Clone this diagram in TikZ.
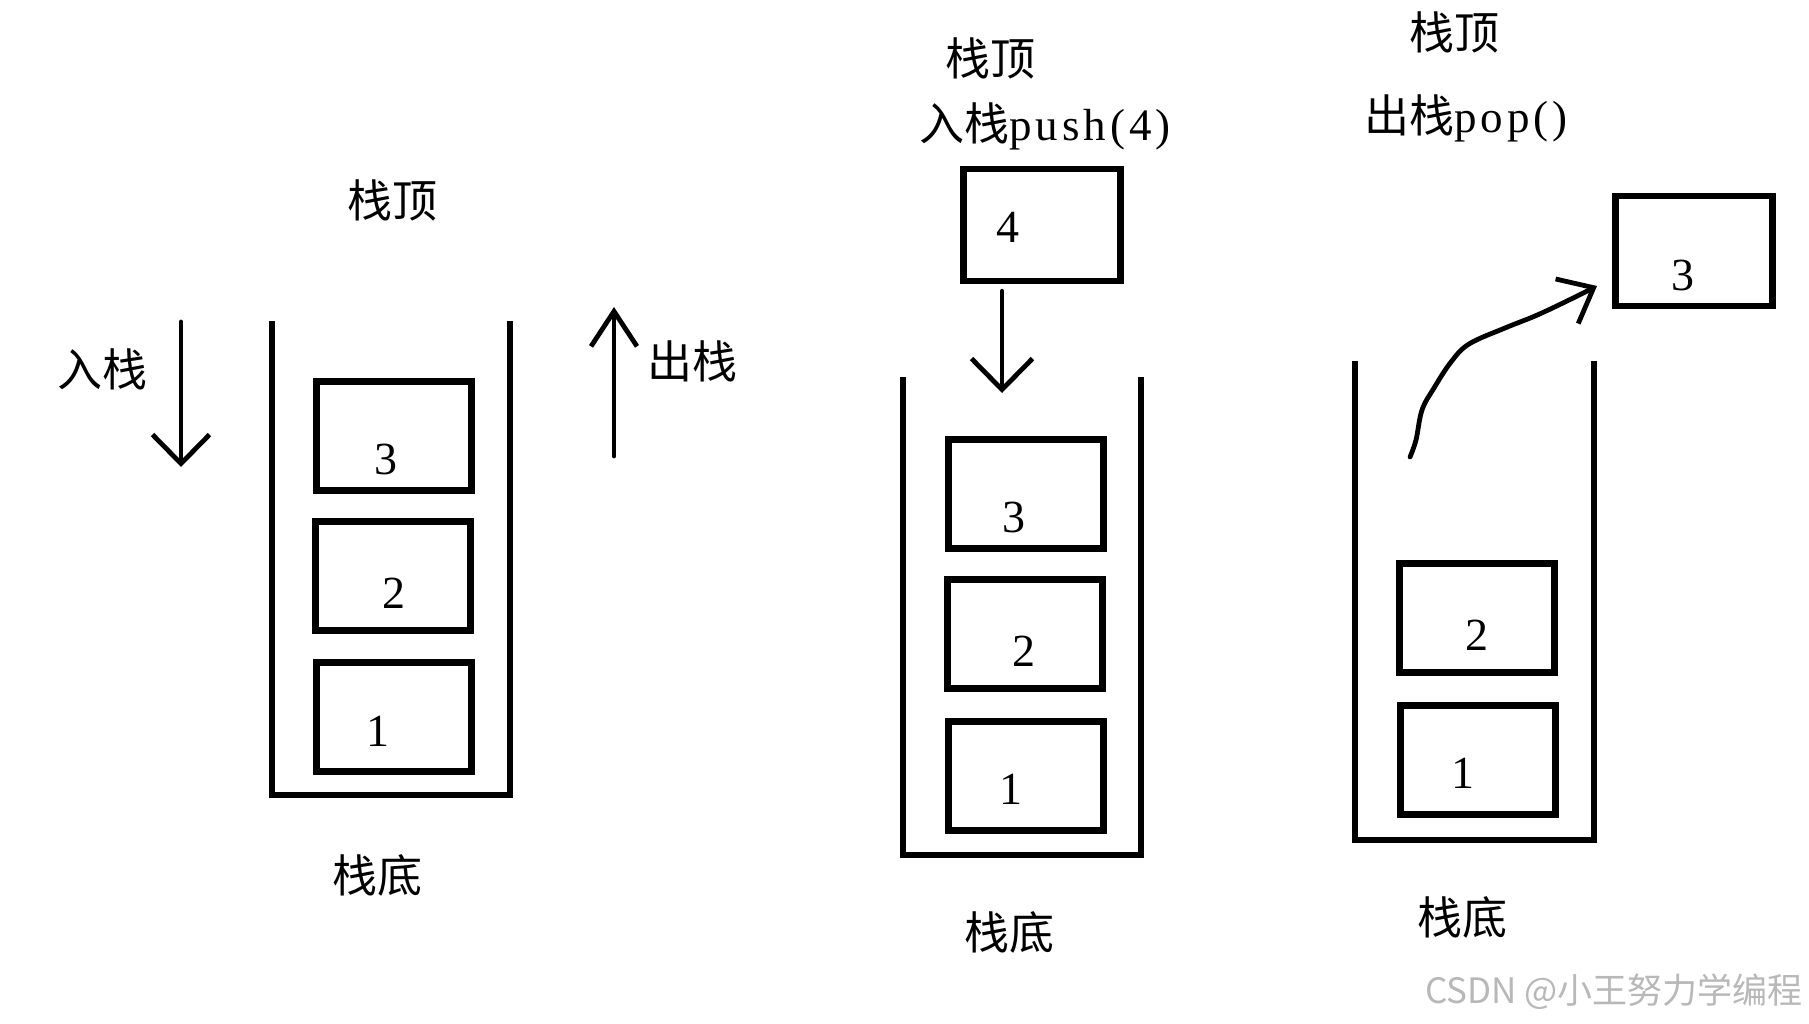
\documentclass[tikz,border=0pt]{standalone}
\usepackage{fontspec}
\setmainfont{Liberation Serif}
\newfontfamily\cjk{Noto Sans CJK SC}
\newfontfamily\spacedrm[LetterSpace=9]{Liberation Serif}
\usetikzlibrary{arrows.meta}
\begin{document}
\begin{tikzpicture}[x=1pt,y=-1pt,
  wall/.style={line width=5.5pt},
  cell/.style={draw, line width=6.5pt, minimum width=155pt, minimum height=109pt, inner sep=0pt},
  dig/.style={inner sep=0pt, font=\fontsize{46}{46}\selectfont, text height=31pt, text depth=0pt},
  lbl/.style={inner sep=0pt, font=\cjk\fontsize{45}{45}\selectfont, text height=40pt, text depth=5pt},
  arrline/.style={line width=4.8pt, line cap=round, line join=round},
]
\fill[white] (0,0) rectangle (1809,1024);
\useasboundingbox (0,0) rectangle (1809,1024);

% ---------- stack 1 ----------
\draw[wall] (272,321) -- (272,795) -- (510,795) -- (510,321);
\node[cell] (a3) at (394,436) {};
\node[cell] (a2) at (393,576) {};
\node[cell] (a1) at (394,717) {};
\node[dig] (a3t) at (386,459) {3};
\node[dig] (a2t) at (394,593) {2};
\node[dig] (a1t) at (378,731) {1};
\node[lbl] (atop) at (392,200) {栈顶};
\node[lbl] (abot) at (377,875) {栈底};
\node[lbl] (ain) at (102,369) {入栈};
\node[lbl] (aout) at (692,361) {出栈};
\coordinate (inS) at (181,322);
\coordinate (inE) at (181,467);
\draw[arrline, -{Straight Barb[length=29pt,width=57pt]}] (inS) -- (inE);
\coordinate (outS) at (614,456);
\coordinate (outE) at (614,307);
\draw[arrline, -{Straight Barb[length=35pt,width=46pt]}] (outS) -- (outE);

% ---------- stack 2 ----------
\draw[wall] (903,377) -- (903,855) -- (1141,855) -- (1141,377);
\node[cell] (b3) at (1026,494) {};
\node[cell] (b2) at (1025,634) {};
\node[cell] (b1) at (1026,776) {};
\node[cell, minimum width=157pt, minimum height=112pt] (b4) at (1042,225) {};
\node[dig] (b3t) at (1014,517) {3};
\node[dig] (b2t) at (1024,651) {2};
\node[dig] (b1t) at (1011,789) {1};
\node[dig] (b4t) at (1008,227) {4};
\node[lbl] (btop) at (990,58) {栈顶};
\node[lbl] (bpush) at (1045,123) {入栈\spacedrm push(4)};
\node[lbl] (bbot) at (1009,932) {栈底};
\coordinate (pushS) at ([xshift=-40pt,yshift=-7pt]b4.south);
\coordinate (pushE) at (1002,393);
\draw[arrline, -{Straight Barb[length=31pt,width=61pt]}] (pushS) -- (pushE);

% ---------- stack 3 ----------
\draw[wall] (1355,361) -- (1355,840) -- (1594,840) -- (1594,361);
\node[cell] (c2) at (1477,618) {};
\node[cell] (c1) at (1478,760) {};
\node[cell, minimum width=157pt, minimum height=110pt] (c3) at (1694,251) {};
\node[dig] (c2t) at (1477,635) {2};
\node[dig] (c1t) at (1463,773) {1};
\node[dig] (c3t) at (1683,275) {3};
\node[lbl] (ctop) at (1454,32) {栈顶};
\node[lbl] (cpop) at (1466,115) {出栈\spacedrm pop()};
\node[lbl] (cbot) at (1462,917) {栈底};
\coordinate (popS) at (1410,457);
\coordinate (popE) at (1597,286);
\draw[arrline, -{Straight Barb[length=30pt,width=50pt]}]
  plot[smooth, tension=0.6] coordinates {(popS) (1416,440) (1422,410) (1434,388) (1451,362) (1469,344) (1505,328) (1535,316) (1565,302) (popE)};

% ---------- watermark ----------
\node[inner sep=0pt, text=black!28, font=\cjk\fontsize{35}{35}\selectfont] (wm) at (1614,992) {CSDN @小王努力学编程};
\end{tikzpicture}
\end{document}
